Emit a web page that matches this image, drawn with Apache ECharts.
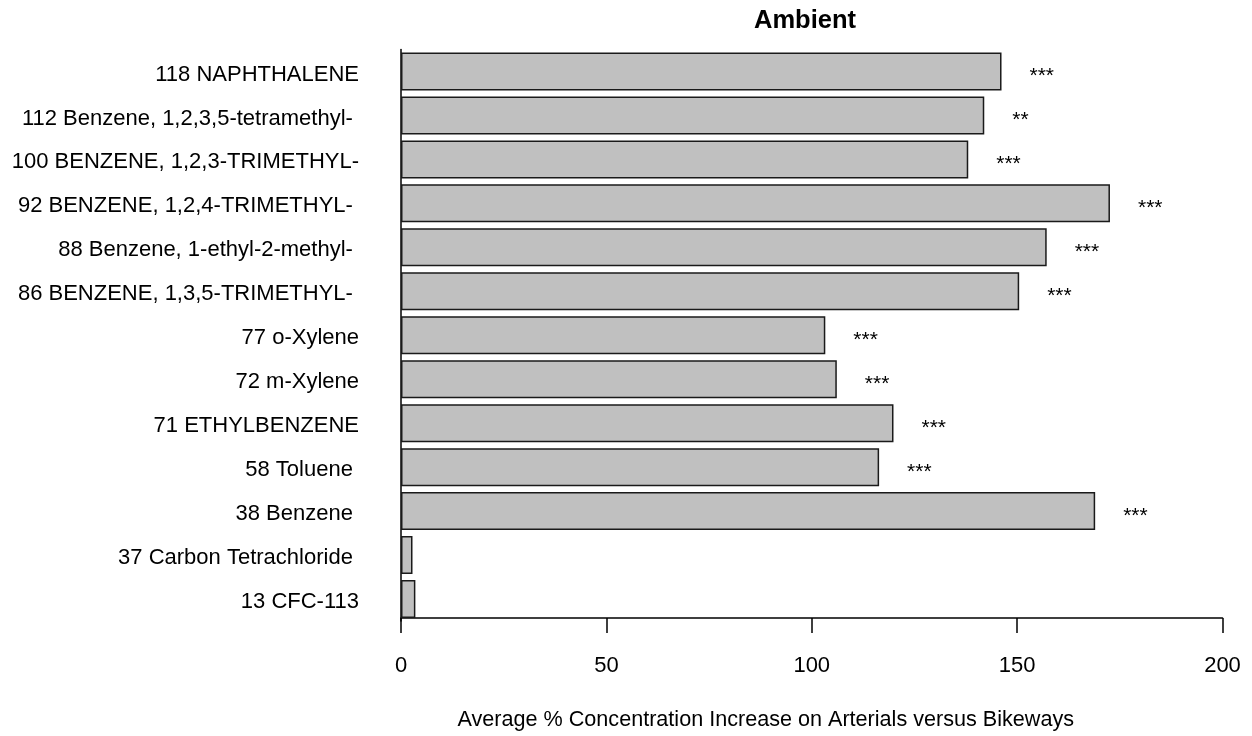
<!DOCTYPE html>
<html>
<head>
<meta charset="utf-8">
<script src="https://cdn.jsdelivr.net/npm/echarts@6/dist/echarts.min.js"></script>
<style>
html,body{margin:0;padding:0;background:#fff;}
#chart{width:1252px;height:736px;}
</style>
</head>
<body>
<div id="chart"></div>
<script>
const categories = [
  "118 NAPHTHALENE",
  "112 Benzene, 1,2,3,5-tetramethyl- ",
  "100 BENZENE, 1,2,3-TRIMETHYL-",
  "92 BENZENE, 1,2,4-TRIMETHYL- ",
  "88 Benzene, 1-ethyl-2-methyl- ",
  "86 BENZENE, 1,3,5-TRIMETHYL- ",
  "77 o-Xylene",
  "72 m-Xylene",
  "71 ETHYLBENZENE",
  "58 Toluene ",
  "38 Benzene ",
  "37 Carbon Tetrachloride ",
  "13 CFC-113"
];
const values = [146.2, 142.0, 138.1, 172.6, 157.2, 150.5, 103.3, 106.1, 119.9, 116.4, 169.0, 2.8, 3.5];
const significance = ["***", "**", "***", "***", "***", "***", "***", "***", "***", "***", "***", "", ""];
const xTicks = [0, 50, 100, 150, 200];

const FONT = "'Liberation Sans', Arial, sans-serif";
const chart = echarts.init(document.getElementById('chart'), null, {renderer: 'canvas'});
chart.setOption({
  animation: false,
  backgroundColor: '#ffffff',
  title: {
    text: 'Ambient',
    left: 754,
    top: 8,
    padding: 0,
    textStyle: {fontFamily: FONT, fontSize: 25.5, fontWeight: 'bold', color: '#000'}
  },
  grid: {left: 401, right: 29.5, top: 49.5, bottom: 111.9, containLabel: false},
  xAxis: {
    type: 'value',
    min: xTicks[0],
    max: xTicks[xTicks.length - 1],
    interval: 50,
    offset: -3,
    name: 'Average % Concentration Increase on Arterials versus Bikeways',
    nameLocation: 'middle',
    nameGap: 91,
    nameTextStyle: {fontFamily: FONT, fontSize: 21.6, color: '#000', verticalAlign: 'top', padding: [0, 92, 0, 0]},
    axisLine: {show: true, lineStyle: {color: '#000', width: 1.5}},
    axisTick: {show: true, length: 15, lineStyle: {color: '#000', width: 1.5}},
    axisLabel: {fontFamily: FONT, fontSize: 22, color: '#000', margin: 37},
    splitLine: {show: false}
  },
  yAxis: {
    type: 'category',
    data: categories,
    inverse: true,
    axisLine: {show: true, lineStyle: {color: '#000', width: 1.5}},
    axisTick: {show: false},
    axisLabel: {fontFamily: FONT, fontSize: 22, color: '#000', margin: 42, verticalAlign: 'top', lineHeight: 6},
    splitLine: {show: false}
  },
  series: [{
    type: 'bar',
    data: values.map((v, i) => ({value: v, label: {formatter: significance[i]}})),
    barWidth: 38,
    itemStyle: {color: '#c0c0c0', borderColor: '#1a1a1a', borderWidth: 1.5},
    label: {
      show: true,
      position: 'right',
      distance: 28,
      offset: [0, 5],
      fontFamily: FONT,
      fontSize: 21,
      color: '#000'
    }
  }]
});
</script>
</body>
</html>
